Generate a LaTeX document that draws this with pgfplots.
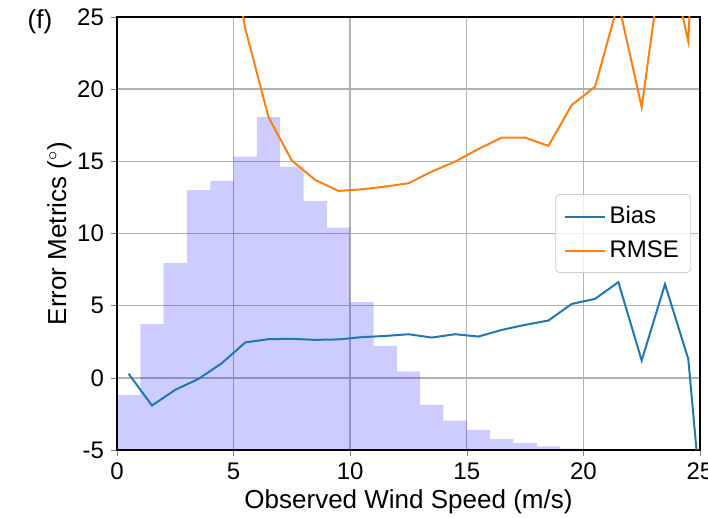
\documentclass[border=0pt]{standalone}
\usepackage{fontspec}
\setmainfont{Liberation Sans}
\usepackage{pgfplots}
\pgfplotsset{compat=1.18}

\definecolor{biasblue}{HTML}{1F77B4}
\definecolor{rmseorange}{HTML}{FF7F0E}

\begin{document}
\begin{tikzpicture}
\begin{axis}[
    scale only axis,
    width=291.5pt,
    height=216.5pt,
    xmin=0, xmax=25,
    ymin=-5, ymax=25,
    xtick={0,5,10,15,20,25},
    ytick={-5,0,5,10,15,20,25},
    /pgf/number format/assume math mode=true,
    tick label style={font=\fontsize{12}{14}\selectfont},
    tick align=outside,
    xtick pos=bottom, ytick pos=left,
    major tick length=3pt,
    grid=major,
    major grid style={draw=black!30, line width=0.7pt},
    axis line style={line width=1pt},
    xlabel={Observed Wind Speed (m/s)},
    ylabel={Error Metrics ($^\circ$)},
    label style={font=\fontsize{13}{15}\selectfont},
    xlabel style={yshift=2pt},
    ylabel style={yshift=-4pt},
    legend style={at={(0.985,0.5)}, anchor=east, font=\fontsize{12}{14}\selectfont,
        draw=black!20, rounded corners=2pt, fill=white, fill opacity=0.8, text opacity=1,
        row sep=3pt, inner sep=4pt},
    legend cell align=left,
    legend image code/.code={\draw[#1] (0cm,0cm) -- (0.7cm,0cm);},
]
% histogram (right edge of each 1 m/s bin, bar top)
\addplot[const plot mark right, fill=blue, fill opacity=0.2, draw=none, forget plot] coordinates {
(0,-5) (1,-1.2) (2,3.74) (3,7.94) (4,13.0) (5,13.64) (6,15.33) (7,18.07) (8,14.64)
(9,12.26) (10,10.41) (11,5.24) (12,2.22) (13,0.44) (14,-1.87) (15,-2.96) (16,-3.6)
(17,-4.25) (18,-4.52) (19,-4.75) (20,-4.9) (20,-5)
};
\addplot[biasblue, line width=1pt] coordinates {
(0.5,0.28) (1.5,-1.92) (2.5,-0.83) (3.5,-0.07) (4.5,1.02) (5.5,2.45) (6.5,2.68)
(7.5,2.70) (8.5,2.63) (9.5,2.66) (10.5,2.82) (11.5,2.9) (12.5,3.02) (13.5,2.79)
(14.5,3.02) (15.5,2.86) (16.5,3.32) (17.5,3.67) (18.5,3.97) (19.5,5.12) (20.5,5.47)
(21.5,6.63) (22.5,1.2) (23.5,6.49) (24.5,1.29) (25.5,-16.7)
};
\addplot[rmseorange, line width=1pt] coordinates {
(4.5,33) (5.5,24.2) (6.5,18.05) (7.5,15.05) (8.5,13.71) (9.5,12.95) (10.5,13.06)
(11.5,13.25) (12.5,13.48) (13.5,14.29) (14.5,14.98) (15.5,15.86) (16.5,16.64)
(17.5,16.64) (18.5,16.07) (19.5,18.9) (20.5,20.17) (21.5,26.0) (22.5,18.75)
(23.5,30.5) (24.5,23.3) (25.5,60)
};
\legend{Bias, RMSE}
\end{axis}
\node[font=\fontsize{13}{15}\selectfont] at ([shift={(-38.5pt,214pt)}]current axis.south west) {(f)};
\pgfresetboundingbox
\path[use as bounding box] (current axis.south west) ++(-58.5pt,-34pt) rectangle ++(354pt,259pt);
\end{tikzpicture}
\end{document}
